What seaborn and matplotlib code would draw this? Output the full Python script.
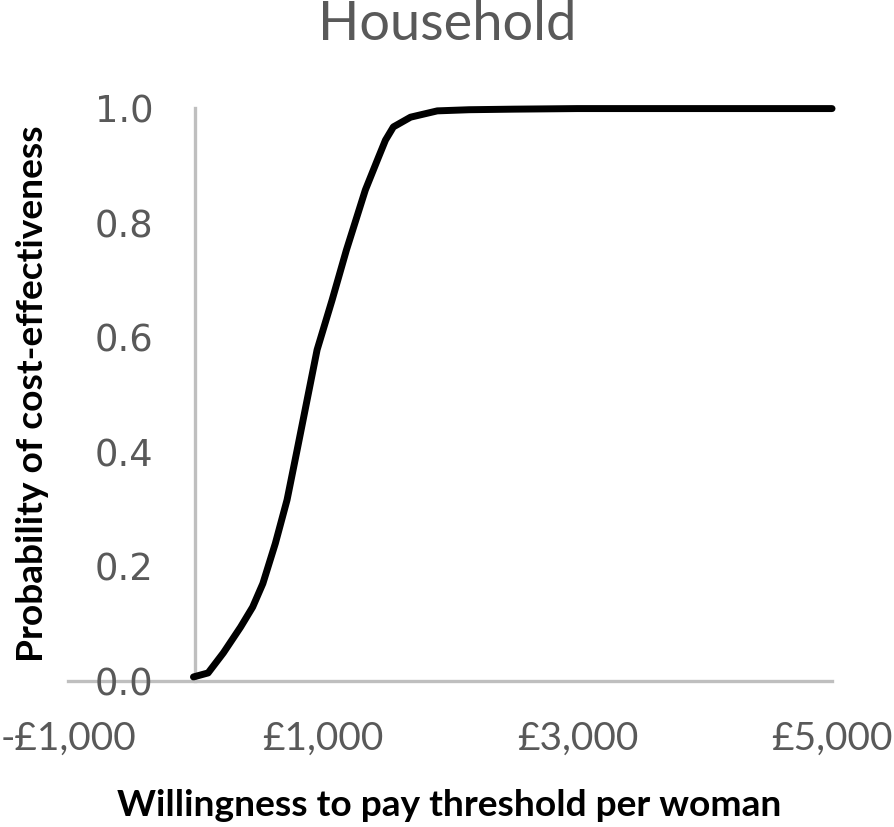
import matplotlib
matplotlib.use('Agg')
import matplotlib.pyplot as plt
from matplotlib.ticker import FuncFormatter
import seaborn as sns
import pandas as pd

# willingness-to-pay threshold (GBP) and probability
wtp = [-15, 100, 220, 355, 450, 530, 628, 720, 799, 877, 956, 1074, 1186,
       1335, 1438, 1493, 1555, 1690, 1900, 2150, 2500, 3000, 4000, 5000]
prob = [0.007, 0.014, 0.049, 0.094, 0.129, 0.170, 0.240, 0.316, 0.403, 0.490,
        0.578, 0.665, 0.752, 0.857, 0.914, 0.944, 0.967, 0.984, 0.995, 0.997,
        0.998, 0.999, 0.999, 0.999]
x_ticks = [-1000, 1000, 3000, 5000]
y_ticks = [0.0, 0.2, 0.4, 0.6, 0.8, 1.0]

title = "Household"
x_label = "Willingness to pay threshold per woman"
y_label = "Probability of cost-effectiveness"

GREY_TXT = '#595959'
GREY_AX = '#bfbfbf'

sns.set_theme(style='white')
plt.rcParams['font.family'] = ['Lato', 'DejaVu Sans']

df = pd.DataFrame({'wtp': wtp, 'prob': prob})

fig = plt.figure(figsize=(8.94, 8.27), dpi=100)
ax = fig.add_axes([0.0761, 0.1766, 0.8546, 0.6928])

sns.lineplot(data=df, x='wtp', y='prob', ax=ax, color='black', linewidth=5,
             solid_capstyle='round', solid_joinstyle='round', clip_on=False)

ax.set_xlim(-1000, 5000)
ax.set_ylim(0, 1.0)

# axes cross at zero like the Excel original
for side in ['top', 'right']:
    ax.spines[side].set_visible(False)
ax.spines['left'].set_position(('data', 0))
ax.spines['bottom'].set_position(('data', 0))
for side in ['left', 'bottom']:
    ax.spines[side].set_color(GREY_AX)
    ax.spines[side].set_linewidth(2.4)
    ax.spines[side].set_zorder(0)

ax.set_xticks(x_ticks)
ax.set_yticks(y_ticks)
ax.xaxis.set_major_formatter(FuncFormatter(
    lambda v, p: ('-' if v < 0 else '') + '£{:,.0f}'.format(abs(v))))
ax.yaxis.set_major_formatter(FuncFormatter(lambda v, p: '{:.1f}'.format(v)))
ax.tick_params(axis='x', length=0, pad=29, labelsize=28, labelcolor=GREY_TXT)
ax.tick_params(axis='y', length=0, pad=30, labelsize=26.6, labelcolor=GREY_TXT)
for lab in ax.get_yticklabels():
    lab.set_fontfamily('DejaVu Sans')

ax.set_xlabel('')
ax.set_ylabel('')

fig.text(0.5, 1 - 40 / 827, title, ha='center', va='baseline',
         fontsize=39, color=GREY_TXT)
fig.text(0.502, 1 - 806 / 827, x_label, ha='center', va='center',
         fontsize=26.7, fontweight='bold', color='black')
fig.text(33 / 894, 1 - 394 / 827, y_label, ha='center', va='center',
         rotation=90, fontsize=26.7, fontweight='bold', color='black')

fig.savefig('out.png', dpi=100)
